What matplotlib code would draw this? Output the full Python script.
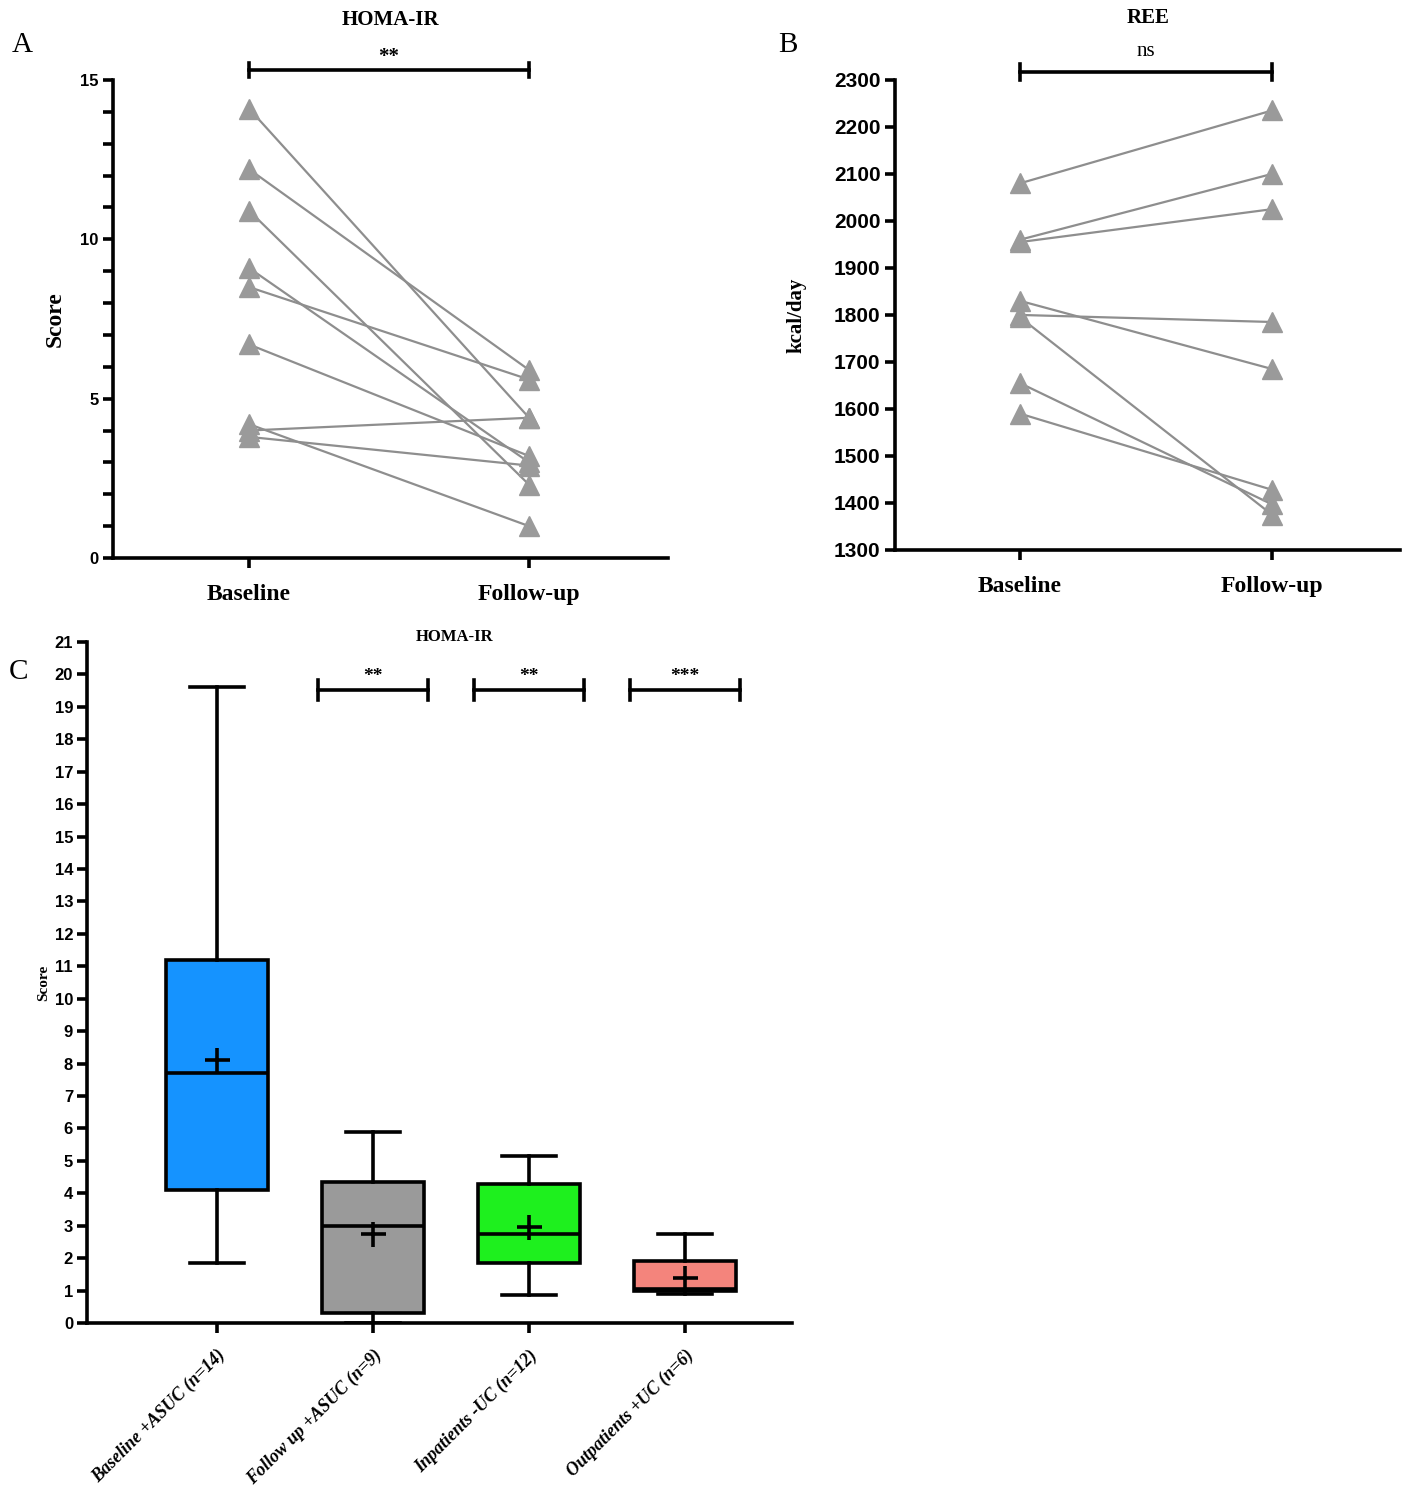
import matplotlib
matplotlib.use("Agg")
import matplotlib.pyplot as plt
from matplotlib.ticker import MultipleLocator

plt.rcParams['font.family'] = ['Liberation Sans', 'DejaVu Sans']

# ---------------- data ----------------
groups_AB = ["Baseline", "Follow-up"]
homa_baseline = [14.1, 12.2, 10.9, 9.1, 8.5, 6.7, 4.2, 4.0, 3.8]
homa_followup = [4.4, 5.9, 2.3, 3.0, 5.6, 3.2, 1.0, 4.4, 2.9]

ree_baseline = [2080, 1960, 1955, 1800, 1830, 1795, 1655, 1590]
ree_followup = [2235, 2100, 2025, 1785, 1685, 1375, 1397, 1428]

box_labels = ["Baseline +ASUC (n=14)", "Follow up +ASUC (n=9)",
              "Inpatients -UC (n=12)", "Outpatients +UC (n=6)"]
box_min = [1.85, 0.0, 0.85, 0.9]
box_q1 = [4.1, 0.3, 1.85, 1.0]
box_median = [7.7, 3.0, 2.75, 1.05]
box_q3 = [11.2, 4.35, 4.3, 1.9]
box_max = [19.6, 5.9, 5.15, 2.75]
box_mean = [8.1, 2.75, 2.95, 1.4]
box_colors = ["#1593FF", "#9A9A9A", "#1EF01E", "#F4847C"]
sig_labels_C = ["**", "**", "***"]

SERIF = ['Liberation Serif', 'DejaVu Serif']
SANS = ['Liberation Sans', 'DejaVu Sans']
tri_color = "#9A9A9A"
line_color = "#8E8E8E"

fig = plt.figure(figsize=(14.17, 14.94), dpi=100)

def style_axes(ax, lw=2.6):
    for s in ['top', 'right']:
        ax.spines[s].set_visible(False)
    for s in ['left', 'bottom']:
        ax.spines[s].set_linewidth(lw)
    ax.tick_params(which='both', width=lw, length=7, direction='out')

# ---------------- Panel A ----------------
axA = fig.add_axes([0.0797, 0.6265, 0.3917, 0.32])
style_axes(axA)
for b, f in zip(homa_baseline, homa_followup):
    axA.plot([0, 1], [b, f], color=line_color, lw=1.6, zorder=2)
axA.plot([0] * len(homa_baseline), homa_baseline, linestyle='none', marker='^',
         ms=14, color=tri_color, zorder=3)
axA.plot([1] * len(homa_followup), homa_followup, linestyle='none', marker='^',
         ms=14, color=tri_color, zorder=3)
axA.set_xlim(-0.486, 1.496)
axA.set_ylim(0, 15)
axA.yaxis.set_major_locator(MultipleLocator(5))
axA.yaxis.set_minor_locator(MultipleLocator(1))
axA.tick_params(axis='y', which='minor', length=7, width=2.6)
axA.set_xticks([0, 1])
axA.set_xticklabels(groups_AB, fontfamily=SERIF, fontweight='bold', fontsize=17)
for t in axA.get_yticklabels():
    t.set_fontweight('bold'); t.set_fontsize(12)
axA.tick_params(axis='x', pad=12)
axA.set_ylabel("Score", fontfamily=SERIF, fontweight='bold', fontsize=17)
axA.yaxis.set_label_coords(-0.085, 0.5)
axA.plot([0, 1], [15.31, 15.31], color='black', lw=2.6, clip_on=False)
axA.plot([0, 0], [15.09, 15.53], color='black', lw=2.6, clip_on=False)
axA.plot([1, 1], [15.09, 15.53], color='black', lw=2.6, clip_on=False)
axA.text(0.5, 15.72, "**", ha='center', va='center', fontsize=15, fontweight='bold',
         fontfamily=SERIF)
fig.text(390 / 1417, 1 - 20 / 1494, "HOMA-IR", ha='center', va='center',
         fontfamily=SERIF, fontweight='bold', fontsize=15)
fig.text(22 / 1417, 1 - 45 / 1494, "A", ha='center', va='center',
         fontfamily=SERIF, fontsize=21)

# ---------------- Panel B ----------------
axB = fig.add_axes([0.6316, 0.6319, 0.3564, 0.3146])
style_axes(axB)
for b, f in zip(ree_baseline, ree_followup):
    axB.plot([0, 1], [b, f], color=line_color, lw=1.6, zorder=2)
axB.plot([0] * len(ree_baseline), ree_baseline, linestyle='none', marker='^',
         ms=14, color=tri_color, zorder=3)
axB.plot([1] * len(ree_followup), ree_followup, linestyle='none', marker='^',
         ms=14, color=tri_color, zorder=3)
axB.set_xlim(-0.496, 1.508)
axB.set_ylim(1300, 2300)
axB.yaxis.set_major_locator(MultipleLocator(100))
axB.set_xticks([0, 1])
axB.set_xticklabels(groups_AB, fontfamily=SERIF, fontweight='bold', fontsize=17)
for t in axB.get_yticklabels():
    t.set_fontweight('bold'); t.set_fontsize(15)
axB.tick_params(axis='x', pad=12)
axB.set_ylabel("kcal/day", fontfamily=SERIF, fontweight='bold', fontsize=15)
axB.yaxis.set_label_coords(-0.175, 0.5)
axB.plot([0, 1], [2317, 2317], color='black', lw=2.6, clip_on=False)
axB.plot([0, 0], [2300, 2334], color='black', lw=2.6, clip_on=False)
axB.plot([1, 1], [2300, 2334], color='black', lw=2.6, clip_on=False)
axB.text(0.5, 2360, "ns", ha='center', va='center', fontsize=15, fontfamily=SERIF)
fig.text(1148 / 1417, 1 - 18 / 1494, "REE", ha='center', va='center',
         fontfamily=SERIF, fontweight='bold', fontsize=15)
fig.text(788 / 1417, 1 - 45 / 1494, "B", ha='center', va='center',
         fontfamily=SERIF, fontsize=21)

# ---------------- Panel C ----------------
axC = fig.add_axes([0.0614, 0.1145, 0.4975, 0.4558])
style_axes(axC)
stats = []
for i in range(len(box_labels)):
    stats.append(dict(label=box_labels[i], whislo=box_min[i], q1=box_q1[i],
                      med=box_median[i], q3=box_q3[i], whishi=box_max[i],
                      mean=box_mean[i], fliers=[]))
bp = axC.bxp(stats, positions=range(len(box_labels)), widths=0.65, capwidths=0.35,
             showmeans=True, meanline=False, patch_artist=True, showfliers=False,
             boxprops=dict(linewidth=2.6, edgecolor='black'),
             whiskerprops=dict(linewidth=2.6, color='black'),
             capprops=dict(linewidth=2.6, color='black'),
             medianprops=dict(linewidth=2.6, color='black'),
             meanprops=dict(marker='+', markersize=18, markeredgewidth=2.6,
                            markeredgecolor='black'))
for patch, c in zip(bp['boxes'], box_colors):
    patch.set_facecolor(c)
axC.set_xlim(-0.833, 3.686)
axC.set_ylim(0, 21)
axC.yaxis.set_major_locator(MultipleLocator(1))
axC.set_xticks(range(len(box_labels)))
axC.set_xticklabels(box_labels, rotation=45, ha='right', rotation_mode='anchor',
                    fontfamily=SERIF, fontweight='bold', fontstyle='italic', fontsize=13)
for t in axC.get_yticklabels():
    t.set_fontweight('bold'); t.set_fontsize(12)
axC.tick_params(axis='x', pad=10)
axC.tick_params(axis='y', pad=3)
axC.set_ylabel("Score", fontfamily=SERIF, fontweight='bold', fontsize=11)
axC.yaxis.set_label_coords(-0.052, 0.5)
for k, lab in enumerate(sig_labels_C):
    xc = k + 1
    axC.plot([xc - 0.35, xc + 0.35], [19.52, 19.52], color='black', lw=2.6, clip_on=False)
    axC.plot([xc - 0.35, xc - 0.35], [19.2, 19.83], color='black', lw=2.6, clip_on=False)
    axC.plot([xc + 0.35, xc + 0.35], [19.2, 19.83], color='black', lw=2.6, clip_on=False)
    axC.text(xc, 19.95, lab, ha='center', va='center', fontsize=14, fontweight='bold',
             fontfamily=SERIF)
fig.text(455 / 1417, 1 - 637 / 1494, "HOMA-IR", ha='center', va='center',
         fontfamily=SERIF, fontweight='bold', fontsize=12)
fig.text(18 / 1417, 1 - 672 / 1494, "C", ha='center', va='center',
         fontfamily=SERIF, fontsize=21)

fig.savefig("out.png", dpi=100)
